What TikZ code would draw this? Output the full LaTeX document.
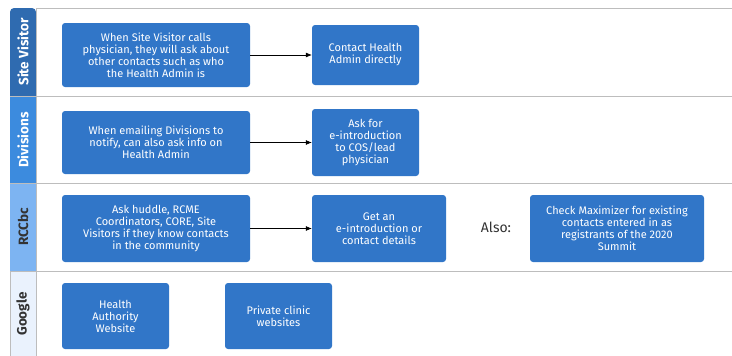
\documentclass[tikz,border=0pt]{standalone}
\usepackage{fontspec}
\setmainfont{Fira Sans}
\usetikzlibrary{positioning}
\usetikzlibrary{arrows.meta}

\definecolor{taskblue}{HTML}{3176C8}
\definecolor{headsv}{HTML}{2F6BB0}
\definecolor{headdiv}{HTML}{3C8BDE}
\definecolor{headrcc}{HTML}{7DB4F2}
\definecolor{headgoo}{HTML}{EAF2FD}
\definecolor{laneline}{HTML}{BDBDBD}

\begin{document}
\begin{tikzpicture}
			[
				x = 1pt, y = -1pt,
				task/.style = {rectangle, rounded corners = 3pt, fill = taskblue, text = white, align = center, inner sep = 2pt, font = \fontsize{11}{12}\selectfont},
				wide/.style = {task, minimum width = 188pt, minimum height = 64pt},
				small/.style = {task, minimum width = 107pt, minimum height = 62pt},
				head/.style = {rotate = 90, font = \bfseries\fontsize{13.5}{15}\selectfont},
				sep/.style = {draw = laneline, line width = 1pt},
				flow/.style = {-{Latex[length = 6pt, width = 5pt]}, black, line width = 0.6pt},
			]
			\useasboundingbox (0,0) rectangle (732,356);
			% lane headers
			\fill [headsv] (10,96) [rounded corners = 4pt] -- (10,8) -- (36,8) [sharp corners] -- (36,96) -- cycle;
			\fill [headdiv] (10,96) rectangle (36,183);
			\fill [headrcc] (10,183) rectangle (36,271);
			\fill [headgoo] (10,271) rectangle (36,356);
			\draw [laneline] (10,271) -- (10,356);
			\node (hsv) [head, text = white] at (23,52) {Site Visitor};
			\node (hdiv) [head, text = white] at (23,140) {Divisions};
			\node (hrcc) [head, text = black!80] at (23,227) {RCCbc};
			\node (hgoo) [head, text = black!80] at (23,314) {Google};
			% lane borders
			\draw [sep] (36,8) -- (732,8);
			\draw [sep] (10,96) -- (732,96);
			\draw [sep] (10,183) -- (732,183);
			\draw [sep] (10,271) -- (732,271);
			\draw [sep] (36,8) -- (36,356);
			% site visitor
			\node (svcall) [wide] at (156,55) {When Site Visitor calls\\physician, they will ask about\\other contacts such as who\\the Health Admin is};
			\node (svdirect) [small, minimum height = 60pt] at (365.5,55) {Contact Health\\Admin directly};
			% divisions
			\node (divmail) [wide, minimum height = 63pt] at (156,142.5) {When emailing Divisions to\\notify, can also ask info on\\Health Admin};
			\node (divintro) [small, minimum height = 67pt] at (365.5,142.5) {Ask for\\e-introduction\\to COS/lead\\physician};
			% rccbc
			\node (rccask) [wide, minimum height = 67pt] at (156,228.5) {Ask huddle, RCME\\Coordinators, CORE, Site\\Visitors if they know contacts\\in the community};
			\node (rccget) [small, minimum width = 134pt, minimum height = 67pt] at (379,228.5) {Get an\\e-introduction or\\contact details};
			\node (also) [font = \fontsize{14}{16}\selectfont, text = black!80] at (496,227) {Also:};
			\node (rccmax) [task, minimum width = 174pt, minimum height = 67pt] at (617,228.5) {Check Maximizer for existing\\contacts entered in as\\registrants of the 2020\\Summit};
			% google
			\node (gooha) [small, minimum height = 66pt] at (115.5,316) {Health\\Authority\\Website};
			\node (goopriv) [small, minimum height = 66pt] at (278.5,316) {Private clinic\\websites};
			% flows
			\draw [flow] (svcall) -- (svdirect);
			\draw [flow] (divmail) -- (divintro);
			\draw [flow] (rccask) -- (rccget);
		\end{tikzpicture}
\end{document}
